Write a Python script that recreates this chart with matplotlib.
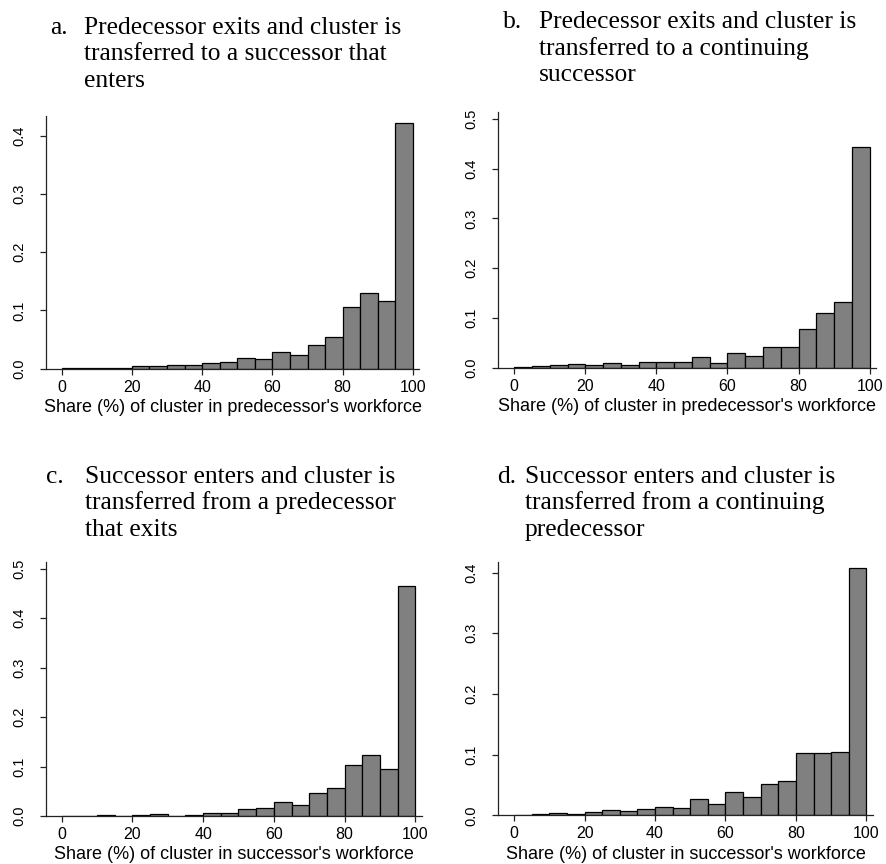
import matplotlib
matplotlib.use("Agg")
import matplotlib.pyplot as plt
import numpy as np

W, H = 886, 864
DPI = 100

bin_edges = list(range(0, 105, 5))

share_a = [0.001, 0.001, 0.002, 0.002, 0.004, 0.004, 0.006, 0.006, 0.010, 0.011,
           0.019, 0.016, 0.029, 0.023, 0.041, 0.054, 0.106, 0.130, 0.116, 0.422]
share_b = [0.001, 0.003, 0.005, 0.007, 0.006, 0.009, 0.006, 0.011, 0.011, 0.011,
           0.021, 0.009, 0.029, 0.023, 0.042, 0.042, 0.078, 0.110, 0.131, 0.443]
share_c = [0.0005, 0.0005, 0.002, 0.001, 0.002, 0.004, 0.001, 0.002, 0.007, 0.006,
           0.015, 0.016, 0.029, 0.022, 0.047, 0.057, 0.103, 0.123, 0.096, 0.466]
share_d = [0.0, 0.0015, 0.003, 0.002, 0.005, 0.008, 0.007, 0.010, 0.014, 0.012,
           0.027, 0.018, 0.039, 0.030, 0.051, 0.057, 0.102, 0.102, 0.104, 0.407]

titles = [
    ("a.", ["Predecessor exits and cluster is", "transferred to a successor that", "enters"]),
    ("b.", ["Predecessor exits and cluster is", "transferred to a continuing", "successor"]),
    ("c.", ["Successor enters and cluster is", "transferred from a predecessor", "that exits"]),
    ("d.", ["Successor enters and cluster is", "transferred from a continuing", "predecessor"]),
]
xlabels = ["Share (%) of cluster in predecessor's workforce",
           "Share (%) of cluster in predecessor's workforce",
           "Share (%) of cluster in successor's workforce",
           "Share (%) of cluster in successor's workforce"]
xticks = [0, 20, 40, 60, 80, 100]
yticks_list = [[0.0, 0.1, 0.2, 0.3, 0.4],
               [0.0, 0.1, 0.2, 0.3, 0.4, 0.5],
               [0.0, 0.1, 0.2, 0.3, 0.4, 0.5],
               [0.0, 0.1, 0.2, 0.3, 0.4]]
ytops = [0.434, 0.513, 0.513, 0.417]
data = [share_a, share_b, share_c, share_d]

# axes boxes in pixels: left, right, top, bottom
boxes = [(45.7, 419.3, 116, 368.7),
         (498.3, 876, 112.3, 367.7),
         (45.7, 421.7, 562.3, 816),
         (498.3, 872.7, 562.3, 815.3)]
# title positions: (letter x, text x, first baseline y)
title_pos = [(50, 84, 34), (503, 539, 28), (46, 85, 483), (497, 525, 483)]
line_step = 26.5

fig = plt.figure(figsize=(W / DPI, H / DPI), dpi=DPI)
fig.patch.set_facecolor("white")

sans = ["Liberation Sans", "DejaVu Sans"]
serif = ["Liberation Serif", "DejaVu Serif"]

# fit title font size so the first line is ~320 px wide
renderer = fig.canvas.get_renderer()
probe = fig.text(0, 0, titles[0][1][0], fontfamily=serif, fontsize=14)
wpx = probe.get_window_extent(renderer).width
probe.remove()
tsize = 14 * 320.0 / wpx

for i in range(4):
    l, r, t, b = boxes[i]
    ax = fig.add_axes([l / W, 1 - b / H, (r - l) / W, (b - t) / H])
    vals = data[i]
    lefts = bin_edges[:-1]
    ax.bar(lefts, vals, width=5, align="edge", color="#808080",
           edgecolor="black", linewidth=0.9)
    ax.set_xlim(-4.5, 101.8)
    ax.set_ylim(0, ytops[i])
    for s in ["top", "right"]:
        ax.spines[s].set_visible(False)
    for s in ["left", "bottom"]:
        ax.spines[s].set_linewidth(0.9)
        ax.spines[s].set_color("#222222")
    ax.set_xticks(xticks)
    ax.set_xticklabels([str(v) for v in xticks], fontfamily=sans, fontsize=11.5)
    ax.set_yticks(yticks_list[i])
    ax.set_yticklabels([f"{v:.1f}" for v in yticks_list[i]], fontfamily=sans,
                       fontsize=10.5, rotation=90, va="center")
    ax.tick_params(axis="both", direction="out", length=4, width=0.9,
                   color="#222222")
    ax.tick_params(axis="x", pad=4)
    ax.tick_params(axis="y", pad=10)
    ax.set_xlabel(xlabels[i], fontfamily=sans, fontsize=13, labelpad=3)

    lx, tx, ty = title_pos[i]
    letter, lines = titles[i]
    fig.text(lx / W, 1 - ty / H, letter, fontfamily=serif, fontsize=tsize,
             va="baseline", ha="left")
    for k, line in enumerate(lines):
        fig.text(tx / W, 1 - (ty + k * line_step) / H, line, fontfamily=serif,
                 fontsize=tsize, va="baseline", ha="left")

fig.savefig("out.png", dpi=DPI)
